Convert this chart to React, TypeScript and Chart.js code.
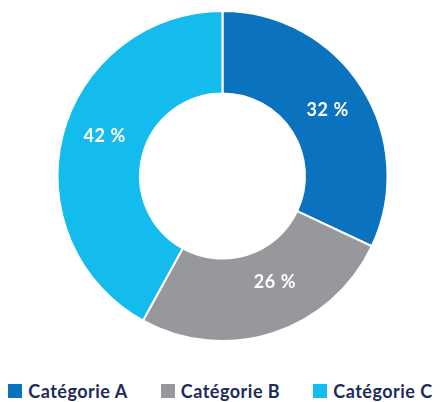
import React, { useEffect, useRef } from "react";
import { Chart, registerables } from "chart.js";

Chart.register(...registerables);

const categories = ["Catégorie A", "Catégorie B", "Catégorie C"];
const values = [32, 26, 42];
const colors = ["#0b72bd", "#97989c", "#14bcee"];

// label anchor within each slice: [fraction along the angle, fraction across the ring]
const labelAnchors = [
  [0.5, 0.51],
  [0.41, 0.43],
  [0.53, 0.51],
];

const labelPlugin = {
  id: "sliceLabels",
  afterDatasetsDraw(chart: any) {
    const ctx = chart.ctx;
    const meta = chart.getDatasetMeta(0);
    ctx.save();
    ctx.fillStyle = "#ffffff";
    ctx.font = "bold 18px Lato, 'Noto Sans', sans-serif";
    try { (ctx as any).letterSpacing = "0.6px"; } catch (e) {}
    ctx.textAlign = "center";
    ctx.textBaseline = "middle";
    meta.data.forEach((arc: any, i: number) => {
      const { x, y, startAngle, endAngle, innerRadius, outerRadius } = arc.getProps(
        ["x", "y", "startAngle", "endAngle", "innerRadius", "outerRadius"],
        true
      );
      const [fa, fr] = labelAnchors[i];
      const a = startAngle + (endAngle - startAngle) * fa;
      const r = innerRadius + (outerRadius - innerRadius) * fr;
      ctx.fillText(values[i] + " %", x + Math.cos(a) * r, y + Math.sin(a) * r + 1);
    });
    ctx.restore();
  },
};

export default function App() {
  const ref = useRef<HTMLCanvasElement>(null);
  useEffect(() => {
    const chart = new Chart(ref.current!, {
      type: "doughnut",
      data: {
        labels: categories,
        datasets: [
          {
            data: values,
            backgroundColor: colors,
            borderColor: "#ffffff",
            borderWidth: 2,
          },
        ],
      },
      options: {
        animation: false,
        responsive: true,
        maintainAspectRatio: false,
        cutout: "50%",
        layout: { padding: { top: 10, bottom: 10, left: 4 } },
        plugins: {
          tooltip: { enabled: false },
          legend: { display: false },
        },
      },
      plugins: [labelPlugin],
    });
    return () => chart.destroy();
  }, []);
  return (
    <div style={{ position: "fixed", left: 0, top: 0, width: 441, height: 402, background: "#fff" }}>
      <div style={{ position: "absolute", left: 0, top: 0, width: 441, height: 352 }}>
        <canvas ref={ref} />
      </div>
      <div
        style={{
          position: "absolute",
          left: 0,
          top: 381,
          width: 441,
          display: "flex",
          justifyContent: "center",
          gap: 33,
          fontFamily: "Lato, 'Noto Sans', sans-serif",
          fontWeight: 700,
          fontSize: 18,
          letterSpacing: "0.5px",
          color: "#1d2b5b",
          lineHeight: "20px",
        }}
      >
        {categories.map((c, i) => (
          <div key={c} style={{ display: "flex", alignItems: "center", gap: 6 }}>
            <span style={{ display: "inline-block", width: 14, height: 14, background: colors[i] }} />
            <span>{c}</span>
          </div>
        ))}
      </div>
    </div>
  );
}
